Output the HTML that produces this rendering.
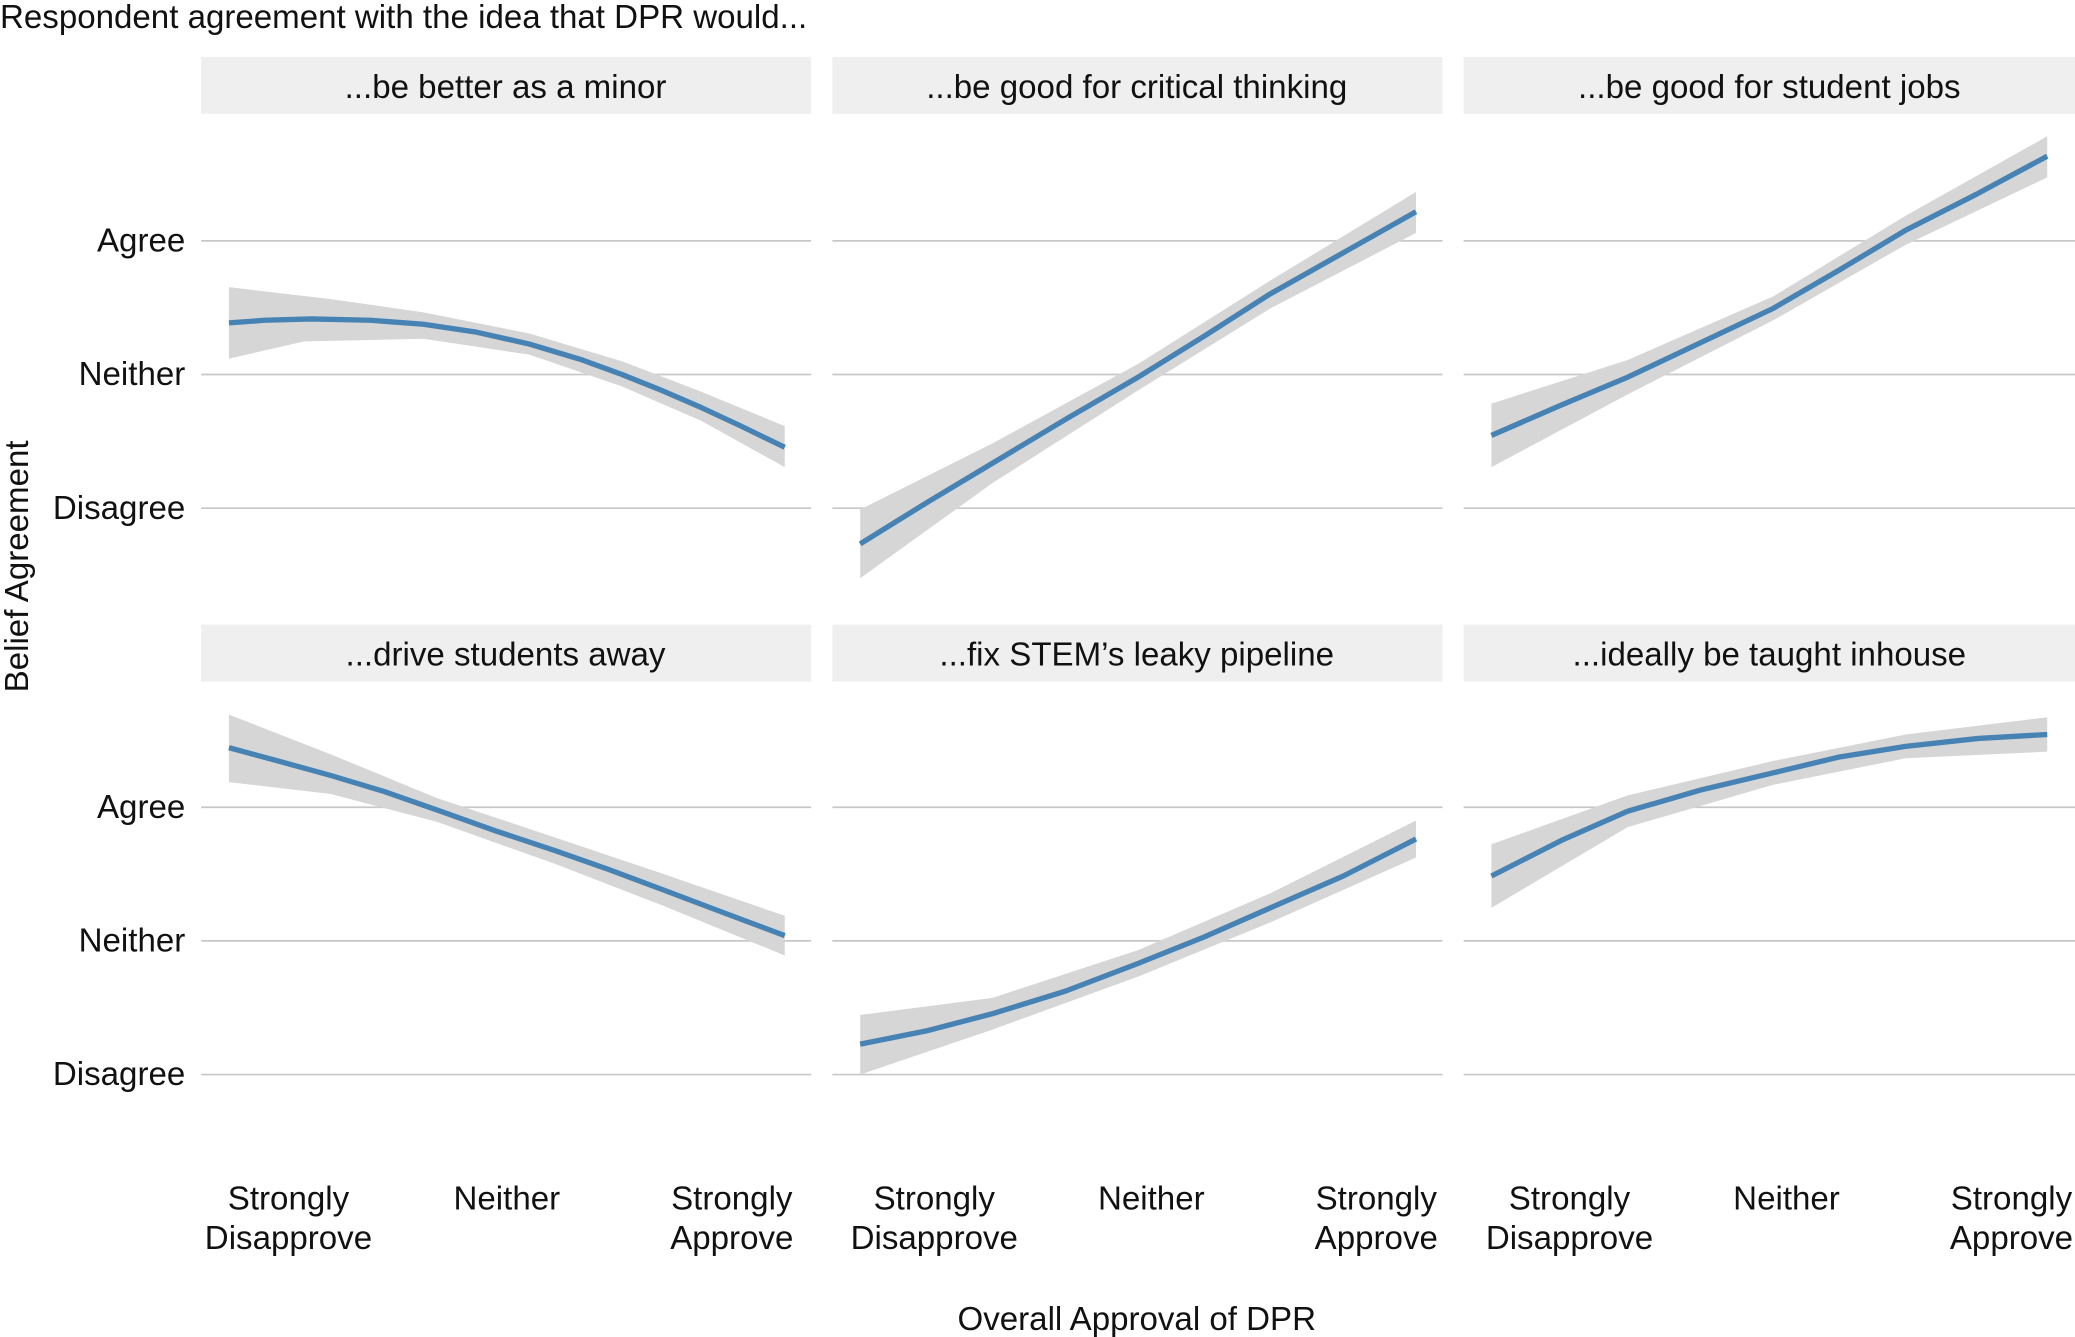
<!DOCTYPE html>
<html><head><meta charset="utf-8"><style>
html,body{margin:0;padding:0;background:#fff;}
svg{display:block;}
text{font-family:"Liberation Sans",sans-serif;fill:#111;}
</style></head><body>
<svg width="2075" height="1337" viewBox="0 0 1568 1010.3" preserveAspectRatio="none" xmlns="http://www.w3.org/2000/svg">
<rect width="1568" height="1011" fill="#fff"/>
<text x="0" y="21" font-size="25">Respondent agreement with the idea that DPR would...</text>
<g fill="#efefef">
<rect x="152" y="43" width="461" height="43"/><rect x="629" y="43" width="461" height="43"/><rect x="1106" y="43" width="462" height="43"/>
<rect x="152" y="472" width="461" height="43"/><rect x="629" y="472" width="461" height="43"/><rect x="1106" y="472" width="462" height="43"/>
</g>
<g font-size="25" text-anchor="middle">
<text x="382" y="74">...be better as a minor</text>
<text x="859" y="74">...be good for critical thinking</text>
<text x="1337" y="74">...be good for student jobs</text>
<text x="382" y="503">...drive students away</text>
<text x="859" y="503">...fix STEM’s leaky pipeline</text>
<text x="1337" y="503">...ideally be taught inhouse</text>
</g>
<g stroke="#c8c8c8" stroke-width="1.3">
<path d="M152 182H613M629 182H1090M1106 182H1568M152 283H613M629 283H1090M1106 283H1568M152 384H613M629 384H1090M1106 384H1568"/>
<path d="M152 610H613M629 610H1090M1106 610H1568M152 711H613M629 711H1090M1106 711H1568M152 812H613M629 812H1090M1106 812H1568"/>
</g>
<g font-size="25" text-anchor="end">
<text x="140" y="190">Agree</text><text x="140" y="291">Neither</text><text x="140" y="392">Disagree</text>
<text x="140" y="618">Agree</text><text x="140" y="719">Neither</text><text x="140" y="820">Disagree</text>
</g>
<g fill="#d6d6d6">
<path d="M173 217L250 226L320 236L400 252L470 273L530 296L593 322L593 353L530 318L470 292L400 268L320 256L230 258L173 271Z"/>
<path d="M650 385L750 335L860 275L960 212L1070 145L1070 176L960 233L860 295L750 365L650 437Z"/>
<path d="M1127 305L1230 272L1340 224L1440 163L1547 103L1547 134L1440 185L1340 242L1230 298L1127 353Z"/>
<path d="M173 540L250 570L330 603L420 633L500 660L593 692L593 722L500 684L420 653L330 621L250 600L173 591Z"/>
<path d="M650 767L750 754L860 718L960 675L1070 620L1070 648L960 697L860 738L750 778L650 812Z"/>
<path d="M1127 638L1230 601L1340 575L1440 555L1547 542L1547 568L1440 573L1340 593L1230 625L1127 686Z"/>
</g>
<g fill="none" stroke="#4682b4" stroke-width="4" stroke-linejoin="round" stroke-linecap="butt">
<polyline points="173,244 200,242 235,241 280,242 320,245 360,251 400,260 440,272 470,283 500,295 530,308 560,322 593,338"/>
<polyline points="650,411 700,380 750,350 805,317 860,285 910,254 960,222 1015,191 1070,160"/>
<polyline points="1127,329 1180,306 1230,285 1285,259 1340,233 1390,204 1440,174 1495,146 1547,118"/>
<polyline points="173,565 210,575 250,586 290,598 330,612 375,628 420,643 460,657 500,672 545,689 593,707"/>
<polyline points="650,789 700,779 750,766 805,749 860,728 910,708 960,686 1015,662 1070,634"/>
<polyline points="1127,662 1180,635 1230,613 1285,597 1340,584 1390,572 1440,564 1495,558 1547,555"/>
</g>
<g font-size="25" text-anchor="middle">
<text x="218" y="914">Strongly</text><text x="218" y="944">Disapprove</text><text x="383" y="914">Neither</text><text x="553" y="914">Strongly</text><text x="553" y="944">Approve</text>
<text x="706" y="914">Strongly</text><text x="706" y="944">Disapprove</text><text x="870" y="914">Neither</text><text x="1040" y="914">Strongly</text><text x="1040" y="944">Approve</text>
<text x="1186" y="914">Strongly</text><text x="1186" y="944">Disapprove</text><text x="1350" y="914">Neither</text><text x="1520" y="914">Strongly</text><text x="1520" y="944">Approve</text>
</g>
<text x="859" y="1005" font-size="25" text-anchor="middle">Overall Approval of DPR</text>
<text transform="translate(21,428) rotate(-90)" font-size="25" text-anchor="middle">Belief Agreement</text>
</svg>
</body></html>
